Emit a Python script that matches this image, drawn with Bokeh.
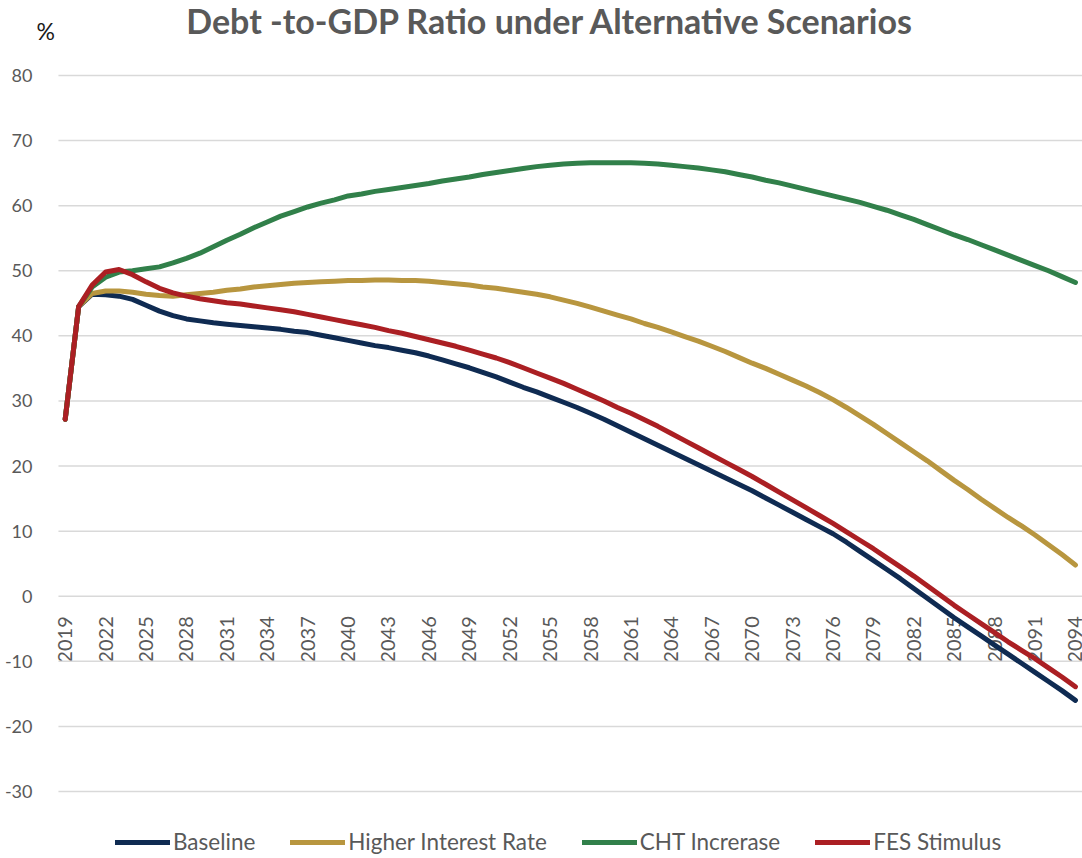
import numpy as np
from bokeh.plotting import figure
from bokeh.models import Range1d, Legend, LegendItem, Label, FixedTicker
from bokeh.embed import file_html
from bokeh.resources import INLINE

years = list(range(2019, 2095))

baseline = [
    27.2, 44.5, 46.4, 46.3, 46.1, 45.6, 44.7, 43.8, 43.1, 42.6,
    42.3, 42.0, 41.8, 41.6, 41.4, 41.2, 41.0, 40.7, 40.5, 40.1,
    39.7, 39.3, 38.9, 38.5, 38.2, 37.8, 37.4, 36.9, 36.3, 35.7,
    35.1, 34.4, 33.7, 32.9, 32.1, 31.4, 30.6, 29.8, 29.0, 28.1,
    27.2, 26.2, 25.2, 24.2, 23.2, 22.2, 21.2, 20.2, 19.2, 18.2,
    17.2, 16.2, 15.1, 14.0, 12.9, 11.8, 10.7, 9.6, 8.3, 6.9,
    5.5, 4.1, 2.7, 1.2, -0.3, -1.8, -3.3, -4.7, -6.1, -7.5,
    -8.9, -10.3, -11.7, -13.1, -14.5, -16.0,
]

higher_rate = [
    27.2, 44.5, 46.5, 46.9, 46.9, 46.7, 46.4, 46.2, 46.1, 46.3,
    46.5, 46.7, 47.0, 47.2, 47.5, 47.7, 47.9, 48.1, 48.2, 48.3,
    48.4, 48.5, 48.5, 48.6, 48.6, 48.5, 48.5, 48.4, 48.2, 48.0,
    47.8, 47.5, 47.3, 47.0, 46.7, 46.4, 46.0, 45.5, 45.0, 44.4,
    43.8, 43.2, 42.6, 41.9, 41.3, 40.6, 39.9, 39.2, 38.4, 37.6,
    36.7, 35.8, 35.0, 34.1, 33.2, 32.3, 31.3, 30.2, 29.0, 27.7,
    26.4, 25.0, 23.6, 22.2, 20.8, 19.3, 17.8, 16.4, 14.9, 13.5,
    12.1, 10.8, 9.4, 7.9, 6.4, 4.8,
]

cht_increase = [
    27.2, 44.5, 47.5, 49.0, 49.8, 50.0, 50.3, 50.6, 51.2, 51.9,
    52.7, 53.7, 54.7, 55.6, 56.6, 57.5, 58.4, 59.1, 59.8, 60.4,
    60.9, 61.5, 61.8, 62.2, 62.5, 62.8, 63.1, 63.4, 63.8, 64.1,
    64.4, 64.8, 65.1, 65.4, 65.7, 66.0, 66.2, 66.4, 66.5, 66.6,
    66.6, 66.6, 66.6, 66.5, 66.4, 66.2, 66.0, 65.8, 65.5, 65.2,
    64.8, 64.4, 63.9, 63.5, 63.0, 62.5, 62.0, 61.5, 61.0, 60.5,
    59.9, 59.3, 58.6, 57.9, 57.1, 56.3, 55.5, 54.8, 54.0, 53.2,
    52.4, 51.6, 50.8, 50.0, 49.1, 48.2,
]

fes_stimulus = [
    27.2, 44.5, 47.8, 49.8, 50.2, 49.4, 48.3, 47.3, 46.6, 46.1,
    45.7, 45.4, 45.1, 44.9, 44.6, 44.3, 44.0, 43.7, 43.3, 42.9,
    42.5, 42.1, 41.7, 41.3, 40.8, 40.4, 39.9, 39.4, 38.9, 38.4,
    37.8, 37.2, 36.6, 35.9, 35.1, 34.3, 33.5, 32.7, 31.8, 30.9,
    30.0, 29.0, 28.1, 27.1, 26.1, 25.0, 23.9, 22.8, 21.7, 20.6,
    19.5, 18.4, 17.2, 16.0, 14.8, 13.6, 12.4, 11.2, 9.9, 8.6,
    7.3, 5.9, 4.5, 3.1, 1.6, 0.1, -1.4, -2.8, -4.2, -5.6,
    -7.0, -8.3, -9.6, -11.0, -12.4, -13.9,
]

series_names = ["Baseline", "Higher Interest Rate", "CHT Increrase", "FES Stimulus"]
series_values = [baseline, higher_rate, cht_increase, fes_stimulus]
series_colors = ["#0F2B52", "#B8963F", "#31804A", "#AB1F23"]

y_ticks = [-30, -20, -10, 0, 10, 20, 30, 40, 50, 60, 70, 80]
y_tick_labels = ["-30", "-20", "-10", "0", "10", "20", "30", "40", "50", "60", "70", "80"]
x_tick_years = list(range(2019, 2095, 3))

title_text = "Debt -to-GDP Ratio under Alternative Scenarios"
unit_text = "%"

FONT = "Lato"
GREY = "#595959"

# The frame covers the whole canvas; axes are pinned inside it.
W, H = 1082, 858
x_lo, x_hi = 2014.197, 2094.524
y_lo, y_hi = -40.29, 91.52
cat_lo, cat_hi = 2018.5, 2094.5

p = figure(
    width=W, height=H,
    output_backend="svg", toolbar_location=None,
    x_range=Range1d(x_lo, x_hi),
    y_range=Range1d(y_lo, y_hi),
    min_border_left=0, min_border_right=0,
    min_border_top=0, min_border_bottom=0,
    outline_line_color=None,
    background_fill_color="white", border_fill_color="white",
)

p.xgrid.visible = False
p.ygrid.visible = False

# horizontal grid lines spanning the category area only
p.segment(x0=[cat_lo] * len(y_ticks), y0=y_ticks,
          x1=[cat_hi] * len(y_ticks), y1=y_ticks,
          line_color="#D9D9D9", line_width=1.5)

# y axis pinned at the left edge of the category area
p.yaxis.ticker = FixedTicker(ticks=y_ticks)
p.yaxis.fixed_location = cat_lo
p.yaxis.major_label_overrides = dict(zip(y_ticks, y_tick_labels))
p.yaxis.axis_line_color = None
p.yaxis.major_tick_line_color = None
p.yaxis.minor_tick_line_color = None
p.yaxis.major_label_standoff = 20
p.yaxis.major_label_text_font = FONT
p.yaxis.major_label_text_font_size = "18px"
p.yaxis.major_label_text_color = GREY

# x axis crossing at zero
p.xaxis.ticker = FixedTicker(ticks=x_tick_years)
p.xaxis.fixed_location = 0
p.xaxis.axis_line_color = None
p.xaxis.major_tick_line_color = None
p.xaxis.minor_tick_line_color = None
p.xaxis.major_label_orientation = np.pi / 2
p.xaxis.major_label_standoff = 14
p.xaxis.major_label_text_font = FONT
p.xaxis.major_label_text_font_size = "20px"
p.xaxis.major_label_text_color = GREY
p.xaxis.level = "underlay"

items = []
for name, vals, col in zip(series_names, series_values, series_colors):
    r = p.line(years, vals, line_color=col, line_width=5,
               line_cap="round", line_join="round")
    items.append(LegendItem(label=name, renderers=[r]))

legend = Legend(
    items=items, orientation="horizontal",
    location=(115, 3),
    glyph_width=55, glyph_height=22,
    label_text_font=FONT, label_text_font_size="22.5px",
    label_text_color=GREY, label_standoff=3,
    spacing=35, padding=0, margin=0,
    border_line_color=None, background_fill_alpha=0,
)
p.add_layout(legend)

p.add_layout(Label(
    x=550, y=838, x_units="screen", y_units="screen",
    text=title_text, text_align="center", text_baseline="alphabetic",
    text_font=FONT, text_font_style="bold", text_font_size="34px",
    text_color=GREY,
))
p.add_layout(Label(
    x=36, y=828, x_units="screen", y_units="screen",
    text=unit_text, text_align="left", text_baseline="alphabetic",
    text_font=FONT, text_font_size="23px", text_color="#1A1A1A",
))

open("out.html", "w").write(file_html(p, INLINE))
